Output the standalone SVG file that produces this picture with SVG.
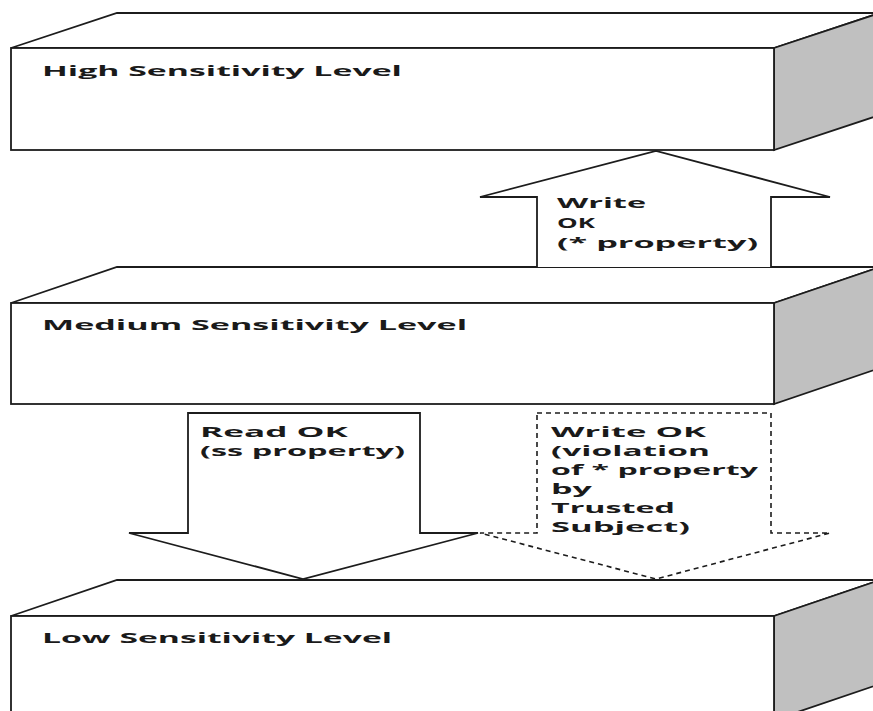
<svg xmlns="http://www.w3.org/2000/svg" width="873" height="711" viewBox="0 0 873 711">
<style>
.edge{fill:#fff;stroke:#1c1c1c;stroke-width:1.8;stroke-linejoin:miter}
.side{fill:#c0c0c0;stroke:#1c1c1c;stroke-width:1.8}
.lbl{font-family:"Open Sans","Liberation Sans",sans-serif;font-weight:700;font-size:15px;fill:#1a1a1a}
.arrow{fill:#fff;stroke:#1c1c1c;stroke-width:1.8}
.dashed{fill:#fff;stroke:#1c1c1c;stroke-width:1.6;stroke-dasharray:5 4}
</style>
<rect width="873" height="711" fill="#fff"/>
<g id="high">
<polygon class="edge" points="11,48 117,13 880,13 774,48"/>
<polygon class="side" points="774,48 880,13 880,115 774,150"/>
<rect class="edge" x="11" y="48" width="763" height="102"/>
<text class="lbl" transform="translate(42,76) scale(2.3,1)" textLength="156.5" lengthAdjust="spacingAndGlyphs">High Sensitivity Level</text>
</g>
<g id="medium">
<polygon class="edge" points="11,303 117,267 880,267 774,303"/>
<polygon class="side" points="774,303 880,267 880,368 774,404"/>
<rect class="edge" x="11" y="303" width="763" height="101"/>
<text class="lbl" transform="translate(42,330) scale(2.3,1)" textLength="184.8" lengthAdjust="spacingAndGlyphs">Medium Sensitivity Level</text>
</g>
<g id="low">
<polygon class="edge" points="11,616 117,580 880,580 774,616"/>
<polygon class="side" points="774,616 880,580 880,684 774,720"/>
<rect class="edge" x="11" y="616" width="763" height="104"/>
<text class="lbl" transform="translate(42,643) scale(2.3,1)" textLength="152.2" lengthAdjust="spacingAndGlyphs">Low Sensitivity Level</text>
</g>
<g id="connectors">
<g id="write-up">
<polyline class="arrow" points="537,267 537,197 480,197 656,151 830,197 771,197 771,267"/>
<text class="lbl" transform="translate(557,208) scale(2.3,1)" textLength="38.7" lengthAdjust="spacingAndGlyphs">Write</text>
<text class="lbl" transform="translate(557,228) scale(2.3,1)" textLength="16.5" lengthAdjust="spacingAndGlyphs">OK</text>
<text class="lbl" transform="translate(557,248) scale(2.3,1)" textLength="87.4" lengthAdjust="spacingAndGlyphs">(* property)</text>
</g>
<g id="read-down">
<polygon class="arrow" points="188,413 420,413 420,533 478,533 303,579 129,533 188,533"/>
<text class="lbl" transform="translate(200,437) scale(2.3,1)" textLength="64.3" lengthAdjust="spacingAndGlyphs">Read OK</text>
<text class="lbl" transform="translate(200,456) scale(2.3,1)" textLength="89.1" lengthAdjust="spacingAndGlyphs">(ss property)</text>
</g>
<g id="write-down-trusted">
<polygon class="dashed" points="537,413 771,413 771,533 830,533 656,579 480,533 537,533"/>
<text class="lbl" transform="translate(551,437) scale(2.3,1)" textLength="67.4" lengthAdjust="spacingAndGlyphs">Write OK</text>
<text class="lbl" transform="translate(551,456) scale(2.3,1)" textLength="69.1" lengthAdjust="spacingAndGlyphs">(violation</text>
<text class="lbl" transform="translate(551,475) scale(2.3,1)" textLength="90" lengthAdjust="spacingAndGlyphs">of * property</text>
<text class="lbl" transform="translate(551,494) scale(2.3,1)" textLength="17.8" lengthAdjust="spacingAndGlyphs">by</text>
<text class="lbl" transform="translate(551,513) scale(2.3,1)" textLength="53.9" lengthAdjust="spacingAndGlyphs">Trusted</text>
<text class="lbl" transform="translate(551,532) scale(2.3,1)" textLength="60.4" lengthAdjust="spacingAndGlyphs">Subject)</text>
</g>
</g>
</svg>
